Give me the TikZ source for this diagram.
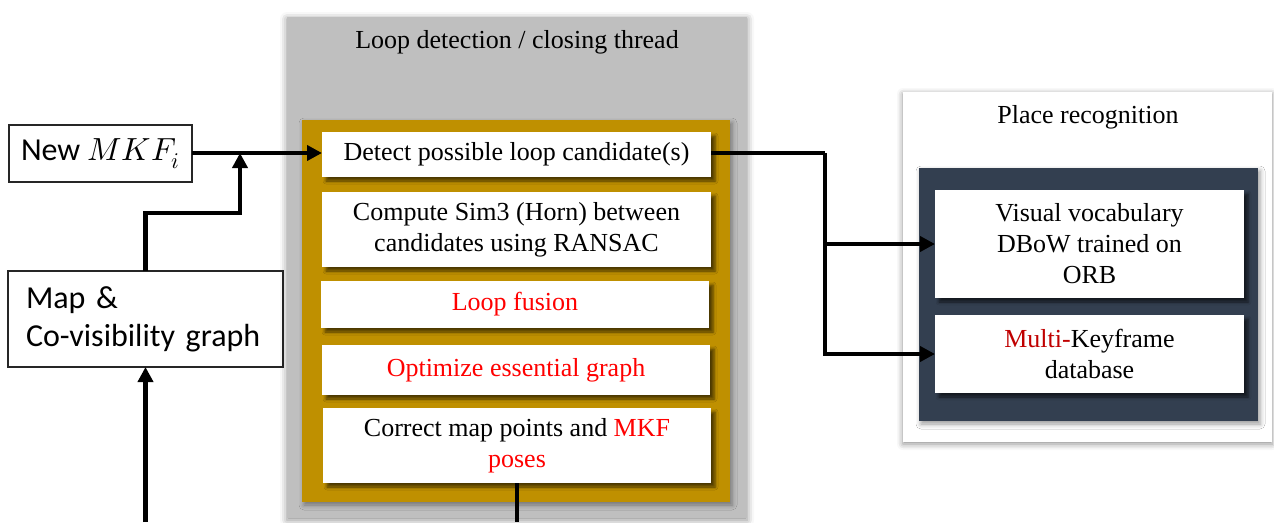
\documentclass[tikz,border=0pt]{standalone}
\usepackage{fontspec}
\usepackage{unicode-math}
\setmainfont{Liberation Serif}
\setmathfont{Latin Modern Math}
\newfontfamily\carlitofont{Carlito}
\usetikzlibrary{arrows.meta,shadows.blur}
\definecolor{goldbg}{HTML}{BF9000}
\definecolor{greybg}{HTML}{BFBFBF}
\definecolor{darkbg}{HTML}{333F50}
\definecolor{mred}{HTML}{FF0000}
\definecolor{dred}{HTML}{C00000}
\begin{document}
\begin{tikzpicture}[x=1pt,y=-1pt,
  panel/.style={rectangle,inner sep=0pt,outer sep=0pt},
  sansbox/.style={panel,draw=black!85,line width=1.3pt,fill=white,font=\carlitofont\fontsize{32}{38}\selectfont},
  stepbox/.style={panel,fill=white,align=center,font=\fontsize{26}{31}\selectfont,
    blur shadow={shadow xshift=4pt,shadow yshift=-4pt,shadow blur radius=3pt,shadow opacity=60}},
  ttl/.style={font=\fontsize{26}{31}\selectfont,inner sep=0pt},
  conn/.style={line width=4.5pt,-{Triangle[length=15pt,width=15pt]}},
  plainconn/.style={line width=4.5pt}
]
\useasboundingbox (0,0) rectangle (1274,522);
% left boxes
\node[sansbox,minimum width=183pt,minimum height=57pt] (newmkf) at (100.5,153.5) {New $MKF_i$};
\node[sansbox,minimum width=275pt,minimum height=96pt,text width=239pt,align=left] (map) at (145.5,319) {Map \&\\Co-visibility graph};
% loop thread panels
\node[panel,fill=greybg,minimum width=460pt,minimum height=501pt,
  blur shadow={shadow xshift=0pt,shadow yshift=-2pt,shadow blur radius=7pt,shadow opacity=45}] (grey) at (517,267.5) {};
\node[ttl] (greyttl) at (517,42) {Loop detection / closing thread};
\node[panel,fill=goldbg,minimum width=428pt,minimum height=382pt,
  blur shadow={shadow xshift=2pt,shadow yshift=-3pt,shadow blur radius=5pt,shadow opacity=40}] (gold) at (516,311) {};
\node[stepbox,minimum width=389pt,minimum height=45pt] (b1) at (516.5,154.5) {Detect possible loop candidate(s)};
\node[stepbox,minimum width=389pt,minimum height=75pt] (b2) at (516.5,229.5) {Compute Sim3 (Horn) between\\candidates using RANSAC};
\node[stepbox,minimum width=388pt,minimum height=47pt,text=mred] (b3) at (515,304.5) {Loop fusion};
\node[stepbox,minimum width=388pt,minimum height=50pt,text=mred] (b4) at (516,370) {Optimize essential graph};
\node[stepbox,minimum width=388pt,minimum height=75pt] (b5) at (517,445.5) {Correct map points and \textcolor{mred}{MKF}\\\textcolor{mred}{poses}};
% place recognition
\node[panel,fill=white,minimum width=369pt,minimum height=350pt,
  blur shadow={shadow xshift=0pt,shadow yshift=-2pt,shadow blur radius=6pt,shadow opacity=45}] (place) at (1087.5,267) {};
\node[ttl] (placettl) at (1088,117) {Place recognition};
\node[panel,fill=darkbg,minimum width=339pt,minimum height=253pt,
  blur shadow={shadow xshift=2pt,shadow yshift=-3pt,shadow blur radius=5pt,shadow opacity=40}] (dark) at (1088.5,294.5) {};
\node[stepbox,minimum width=309pt,minimum height=108pt] (vis) at (1089.5,244) {Visual vocabulary\\DBoW trained on\\ORB};
\node[stepbox,minimum width=309pt,minimum height=78pt] (multi) at (1089.5,354) {\textcolor{dred}{Multi-}Keyframe\\database};
% connectors
\coordinate (j) at (240,153);
\coordinate (k) at (240,213);
\coordinate (bot) at (145.5,522);
\coordinate (bot2) at (517,522);
\coordinate (split) at (825,153);
\draw[conn] (newmkf.east |- j) -- (j -| b1.west);
\draw[conn] (map.north) |- (k) -- (j);
\draw[conn] (bot) -- (map.south);
\draw[plainconn] (b5.south) -- (bot2);
\draw[plainconn] (j -| b1.east) -- (split);
\draw[conn] (split) |- (vis.west);
\draw[conn] (split) |- (multi.west);
\end{tikzpicture}
\end{document}
